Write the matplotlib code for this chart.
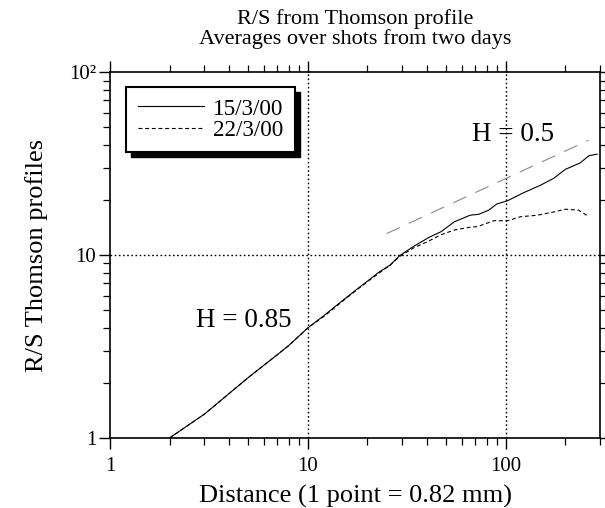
import matplotlib
matplotlib.use("Agg")
import matplotlib.pyplot as plt
from matplotlib.patches import Rectangle

plt.rcParams["font.family"] = ["Liberation Serif", "DejaVu Serif"]

# R/S curve, shots from 15/3/00
dist_a = [2, 3, 4, 5, 6, 7, 8, 10, 12, 15, 18, 20, 23, 26, 29, 34, 41, 47, 55,
          66, 73, 82, 90, 102, 123, 150, 175, 200, 238, 263, 290]
rs_a = [1.0, 1.35, 1.75, 2.14, 2.5, 2.85, 3.2, 4.0, 4.65, 5.65, 6.6, 7.2, 8.1,
        8.8, 9.9, 11.1, 12.5, 13.4, 15.2, 16.5, 16.7, 17.6, 19.0, 19.8, 21.9,
        24.1, 26.3, 29.4, 31.9, 34.9, 35.6]

# R/S curve, shots from 22/3/00
dist_b = [2, 3, 4, 5, 6, 7, 8, 10, 12, 15, 18, 20, 23, 26, 29, 34, 40, 47, 55,
          66, 72, 87, 102, 119, 144, 175, 200, 233, 263]
rs_b = [1.0, 1.35, 1.75, 2.14, 2.5, 2.85, 3.2, 4.0, 4.6, 5.6, 6.55, 7.15, 8.0,
        8.8, 9.8, 10.9, 11.8, 12.9, 13.7, 14.2, 14.3, 15.4, 15.4, 16.2, 16.5,
        17.2, 17.8, 17.6, 16.2]

# H = 0.5 reference slope
ref_x = [25, 262]
ref_y = [13.1, 42.4]

legend_labels = ["15/3/00", "22/3/00"]

fig = plt.figure(figsize=(6.05, 5.08), dpi=100)
fig.subplots_adjust(left=0.182, right=0.992, bottom=0.138, top=0.858)
ax = fig.add_subplot(111)

ax.plot(dist_a, rs_a, color="black", lw=0.8, label=legend_labels[0])
ax.plot(dist_b, rs_b, color="black", lw=0.8, dashes=(3.5, 2.5), label=legend_labels[1])
ax.plot(ref_x, ref_y, color="#888888", lw=0.8, dashes=(13, 9))

ax.set_xscale("log")
ax.set_yscale("log")
ax.set_xlim(1, 300)
ax.set_ylim(1, 100)

ax.set_xticks([1, 10, 100])
ax.set_xticklabels(["1", "10", "100"])
ax.set_yticks([1, 10, 100])
ax.set_yticklabels(["1", "10", "10\u00b2"])

ax.tick_params(which="both", direction="out", top=True, right=True, labelsize=15)
ax.tick_params(which="major", length=8, width=1)
ax.tick_params(which="minor", length=5, width=0.9)
ax.tick_params(axis="x", which="major", pad=6)
ax.tick_params(axis="y", which="major", pad=2)
for s in ax.spines.values():
    s.set_linewidth(1.2)

for gx in [10, 100]:
    ax.axvline(gx, color="black", lw=1, dashes=(1.2, 1.8), zorder=1)
ax.axhline(10, color="black", lw=1, dashes=(1.2, 1.8), zorder=1)

ax.text(2.72, 4.03, "H = 0.85", fontsize=19.5, ha="left", va="baseline")
ax.text(67.6, 42.1, "H = 0.5", fontsize=19.5, ha="left", va="baseline")

ax.set_xlabel("Distance (1 point = 0.82 mm)", fontsize=19, labelpad=6)
ax.set_ylabel("R/S Thomson profiles", fontsize=19, labelpad=15)
ax.set_title("R/S from Thomson profile\nAverages over shots from two days",
             fontsize=16, linespacing=1.0, pad=20)

leg = ax.legend(loc="upper left", bbox_to_anchor=(0.0327, 0.96), borderaxespad=0,
                fontsize=16.7, fancybox=False, framealpha=1, edgecolor="black",
                borderpad=0.5, handlelength=2.85, handletextpad=0.4,
                labelspacing=0.0)
leg.get_frame().set_linewidth(1.5)

fig.canvas.draw()
bb = leg.get_window_extent()
shadow = Rectangle((bb.x0 + 5, bb.y0 - 5), bb.width, bb.height, transform=None,
                   facecolor="black", edgecolor="black", zorder=4.9, clip_on=False)
ax.add_patch(shadow)

fig.savefig("out.png", dpi=100)
